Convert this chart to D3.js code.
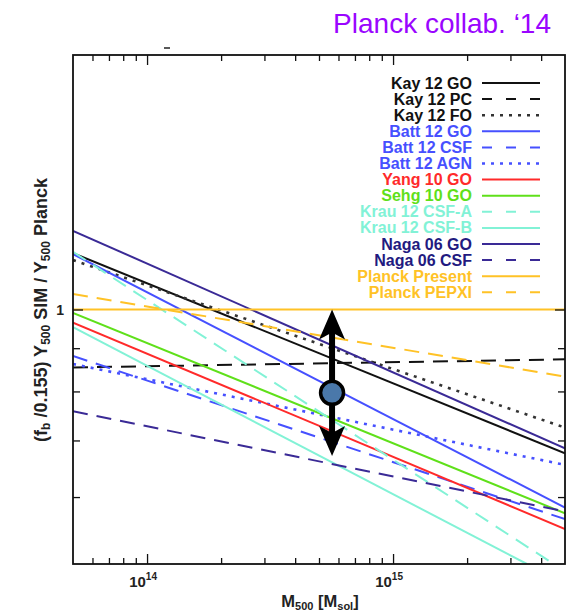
<!DOCTYPE html>
<html>
<head>
<meta charset="utf-8">
<script src="https://cdn.jsdelivr.net/npm/d3@7"></script>
<style>
  body { margin: 0; background: #fff; }
  svg { display: block; font-family: "Liberation Sans", Arial, sans-serif; }
</style>
</head>
<body>
<div id="chart"></div>
<script>
// each series: [M500, ratio] read where the line meets the frame
const kay12GO = [[5e13, 1.166], [5e15, 0.676]];
const kay12PC = [[5e13, 0.854], [5e15, 0.873]];
const kay12FO = [[5e13, 1.144], [5e15, 0.725]];
const batt12GO = [[5e13, 1.163], [5e15, 0.583]];
const batt12CSF = [[5e13, 0.881], [5e15, 0.565]];
const batt12AGN = [[5e13, 0.862], [5e15, 0.655]];
const yang10GO = [[5e13, 0.965], [5e15, 0.550]];
const sehg10GO = [[5e13, 0.991], [5e15, 0.574]];
const krau12CSFA = [[5e13, 1.170], [4.5e15, 0.5]];
const krau12CSFB = [[5e13, 0.953], [3.5e15, 0.5]];
const naga06GO = [[5e13, 1.239], [5e15, 0.685]];
const naga06CSF = [[5e13, 0.758], [5e15, 0.577]];
const planckPresent = [[5e13, 1.0], [5e15, 1.0]];
const planckPEPXI = [[5e13, 1.043], [5e15, 0.833]];

const planckPoint = [5.65e14, 0.797];
const planckRange = [0.671, 1.0];

const xMajor = [1e14, 1e15];
const xMinor = [6e13, 7e13, 8e13, 9e13, 2e14, 3e14, 4e14, 5e14, 6e14, 7e14, 8e14, 9e14, 2e15, 3e15, 4e15];
const yMajor = [1];
const yMinor = [0.6, 0.7, 0.8, 0.9];

const W = 572, H = 612;
const pL = 73, pR = 565, pT = 55, pB = 564;

const black = "#111", blue = "#4650ff", red = "#ff2a2a", green = "#5fe01a",
      aqua = "#82f2d6", navy = "#3a2a96", gold = "#ffc226";
const dashed = "15,9", dotted = "3,6";

const series = [
  { name: "Kay 12 GO", pts: kay12GO, color: black, text: black, dash: null },
  { name: "Kay 12 PC", pts: kay12PC, color: black, text: black, dash: dashed },
  { name: "Kay 12 FO", pts: kay12FO, color: "#333", text: black, dash: dotted, w: 2.6 },
  { name: "Batt 12 GO", pts: batt12GO, color: blue, text: blue, dash: null },
  { name: "Batt 12 CSF", pts: batt12CSF, color: blue, text: blue, dash: dashed },
  { name: "Batt 12 AGN", pts: batt12AGN, color: blue, text: blue, dash: dotted, w: 2.6 },
  { name: "Yang 10 GO", pts: yang10GO, color: red, text: red, dash: null },
  { name: "Sehg 10 GO", pts: sehg10GO, color: green, text: green, dash: null },
  { name: "Krau 12 CSF-A", pts: krau12CSFA, color: aqua, text: aqua, dash: dashed },
  { name: "Krau 12 CSF-B", pts: krau12CSFB, color: aqua, text: aqua, dash: null },
  { name: "Naga 06 GO", pts: naga06GO, color: navy, text: "#221a80", dash: null },
  { name: "Naga 06 CSF", pts: naga06CSF, color: navy, text: "#221a80", dash: dashed },
  { name: "Planck Present", pts: planckPresent, color: gold, text: gold, dash: null },
  { name: "Planck PEPXI", pts: planckPEPXI, color: gold, text: gold, dash: dashed }
];

const x = d3.scaleLog().domain([5e13, 5e15]).range([pL, pR]);
const y = d3.scaleLog().domain([0.5, 2]).range([pB, pT]);

const svg = d3.select("#chart").append("svg")
  .attr("width", W)
  .attr("height", H);

svg.append("clipPath").attr("id", "plot")
  .append("rect")
  .attr("x", pL).attr("y", pT)
  .attr("width", pR - pL).attr("height", pB - pT);

// title
svg.append("text")
  .attr("x", 551).attr("y", 33)
  .attr("text-anchor", "end")
  .attr("font-size", 28)
  .attr("fill", "#9a05ff")
  .text("Planck collab. \u201814");

// stray mark above the frame
svg.append("line")
  .attr("x1", 164).attr("x2", 170).attr("y1", 48).attr("y2", 48)
  .attr("stroke", "#222").attr("stroke-width", 1.5);

// series lines
const line = d3.line().x(d => x(d[0])).y(d => y(d[1]));
svg.append("g").attr("clip-path", "url(#plot)")
  .selectAll("path")
  .data(series)
  .enter().append("path")
  .attr("d", d => line(d.pts))
  .attr("fill", "none")
  .attr("stroke", d => d.color)
  .attr("stroke-width", d => d.w || 2)
  .attr("stroke-dasharray", d => d.dash);

// ticks, drawn inward on all four sides
function ticks(axis, vals, size, tr) {
  const g = svg.append("g").attr("transform", tr)
    .call(axis.tickValues(vals).tickSizeInner(-size).tickSizeOuter(0).tickFormat(""));
  g.select(".domain").remove();
  g.selectAll("line").attr("stroke", "#111").attr("stroke-width", 1.3);
}
ticks(d3.axisBottom(x), xMajor, 10, `translate(0,${pB})`);
ticks(d3.axisBottom(x), xMinor, 6, `translate(0,${pB})`);
ticks(d3.axisTop(x), xMajor, 10, `translate(0,${pT})`);
ticks(d3.axisTop(x), xMinor, 6, `translate(0,${pT})`);
ticks(d3.axisLeft(y), yMajor, 10, `translate(${pL},0)`);
ticks(d3.axisLeft(y), yMinor, 7, `translate(${pL},0)`);
ticks(d3.axisRight(y), yMajor, 10, `translate(${pR},0)`);
ticks(d3.axisRight(y), yMinor, 7, `translate(${pR},0)`);

// frame
svg.append("rect")
  .attr("x", pL).attr("y", pT)
  .attr("width", pR - pL).attr("height", pB - pT)
  .attr("fill", "none").attr("stroke", "#111").attr("stroke-width", 1.8);

// tick labels
const xl = svg.append("g").selectAll("text")
  .data(xMajor)
  .enter().append("text")
  .attr("x", d => x(d) - 4)
  .attr("y", 587)
  .attr("text-anchor", "middle")
  .attr("font-size", 15)
  .attr("font-weight", "bold")
  .attr("fill", "#222");
xl.append("tspan").text("10");
xl.append("tspan").attr("dy", -7).attr("font-size", 10).text(d => Math.round(Math.log10(d)));

svg.append("g").selectAll("text")
  .data(yMajor)
  .enter().append("text")
  .attr("x", 64)
  .attr("y", d => y(d) + 5)
  .attr("text-anchor", "end")
  .attr("font-size", 14)
  .attr("font-weight", "bold")
  .attr("fill", "#222")
  .text(d => d);

// axis titles
const xt = svg.append("text")
  .attr("x", 320).attr("y", 607)
  .attr("text-anchor", "middle")
  .attr("font-size", 16.5)
  .attr("font-weight", "bold")
  .attr("fill", "#222");
xt.append("tspan").text("M");
xt.append("tspan").attr("dy", 3).attr("font-size", 11).text("500");
xt.append("tspan").attr("dy", -3).text(" [M");
xt.append("tspan").attr("dy", 3).attr("font-size", 11).text("sol");
xt.append("tspan").attr("dy", -3).text("]");

const yt = svg.append("text")
  .attr("transform", "translate(47,310) rotate(-90)")
  .attr("text-anchor", "middle")
  .attr("font-size", 18)
  .attr("font-weight", "bold")
  .attr("fill", "#222");
yt.append("tspan").text("(f");
yt.append("tspan").attr("dy", 3).attr("font-size", 12).text("b");
yt.append("tspan").attr("dy", -3).text(" /0.155) Y");
yt.append("tspan").attr("dy", 3).attr("font-size", 12).text("500");
yt.append("tspan").attr("dy", -3).text(" SIM / Y");
yt.append("tspan").attr("dy", 3).attr("font-size", 12).text("500");
yt.append("tspan").attr("dy", -3).text(" Planck");

// legend
const leg = svg.append("g").selectAll("g")
  .data(series)
  .enter().append("g")
  .attr("transform", (d, i) => `translate(0,${83 + i * 16.1})`);
leg.append("text")
  .attr("x", 472).attr("y", 5.5)
  .attr("text-anchor", "end")
  .attr("font-size", 16)
  .attr("font-weight", "bold")
  .attr("fill", d => d.text)
  .text(d => d.name);
leg.append("line")
  .attr("x1", 482).attr("x2", 540)
  .attr("stroke", d => d.color)
  .attr("stroke-width", d => d.w || 2)
  .attr("stroke-dasharray", d => d.dash === dashed ? "10,14" : d.dash);

// Planck marker with range arrow
const mx = x(planckPoint[0]);
const yTop = y(planckRange[1]), yBot = y(planckRange[0]);
svg.append("line")
  .attr("x1", mx).attr("x2", mx)
  .attr("y1", yTop + 18).attr("y2", yBot - 18)
  .attr("stroke", "#000").attr("stroke-width", 6);
svg.append("path")
  .attr("d", `M${mx},${yTop} L${mx + 13},${yTop + 30} L${mx},${yTop + 23} L${mx - 13},${yTop + 30} Z`)
  .attr("fill", "#000");
svg.append("path")
  .attr("d", `M${mx},${yBot} L${mx + 13},${yBot - 30} L${mx},${yBot - 23} L${mx - 13},${yBot - 30} Z`)
  .attr("fill", "#000");
svg.append("circle")
  .attr("cx", mx).attr("cy", y(planckPoint[1]))
  .attr("r", 11.5)
  .attr("fill", "#4a78aa")
  .attr("stroke", "#000").attr("stroke-width", 3.5);
</script>
</body>
</html>
